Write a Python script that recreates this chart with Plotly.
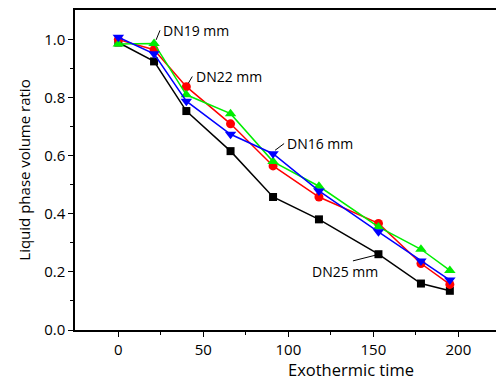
import plotly.graph_objects as go

time = [0, 21, 40, 66, 91, 118, 153, 178, 195]
dn25 = [0.99, 0.925, 0.754, 0.616, 0.458, 0.381, 0.261, 0.160, 0.135]
dn22 = [1.0, 0.965, 0.838, 0.71, 0.565, 0.458, 0.367, 0.229, 0.157]
dn19 = [0.985, 0.987, 0.81, 0.745, 0.58, 0.495, 0.355, 0.278, 0.205]
dn16 = [1.008, 0.951, 0.788, 0.674, 0.607, 0.479, 0.338, 0.238, 0.172]

series = [
    ("DN25 mm", dn25, "#000000", "square", 8),
    ("DN22 mm", dn22, "#ff0000", "circle", 9),
    ("DN19 mm", dn19, "#00ee00", "triangle-up", 10),
    ("DN16 mm", dn16, "#0000ff", "triangle-down", 10),
]

FONT = "Open Sans"
fig = go.Figure()
for name, ys, col, sym, sz in series:
    fig.add_trace(go.Scatter(x=time, y=ys, name=name, mode="lines+markers",
                             line=dict(color=col, width=1.5),
                             marker=dict(symbol=sym, size=sz, color=col),
                             cliponaxis=False))

labels = [
    ("DN19 mm", dn19, 1, (3.5, 0.045), None),
    ("DN22 mm", dn22, 2, (3.5, 0.035), None),
    ("DN16 mm", dn16, 4, (6.5, 0.035), None),
    ("DN25 mm", dn25, 6, (-15, 0.023), (-40, -0.06)),
]
for txt, ys, i, (dx, dy), toff in labels:
    x0, y0 = time[i], ys[i]
    if toff is None:
        fig.add_shape(type="line", x0=x0 + 1.2, y0=y0 + 0.012, x1=x0 + dx, y1=y0 + dy,
                      line=dict(color="black", width=1))
        fig.add_annotation(x=x0 + dx + 0.8, y=y0 + dy, text=txt, showarrow=False,
                           xanchor="left", yanchor="middle",
                           font=dict(family=FONT, size=14, color="black"))
    else:
        fig.add_shape(type="line", x0=x0 - 1.5, y0=y0 - 0.003, x1=x0 + dx, y1=y0 - dy,
                      line=dict(color="black", width=1))
        fig.add_annotation(x=x0 + toff[0], y=y0 + toff[1], text=txt, showarrow=False,
                           xanchor="left", yanchor="middle",
                           font=dict(family=FONT, size=14, color="black"))

# figure is slightly wider than the window; the plot continues past the right edge
W = 512
PLOT_W = W - 75
fig.add_annotation(xref="paper", yref="paper", x=(351 - 75) / PLOT_W, y=-40 / 320.5,
                   text="Exothermic time", showarrow=False, xanchor="center", yanchor="middle",
                   font=dict(family=FONT, size=16.5, color="black"))

fig.update_layout(
    width=W, height=383,
    margin=dict(l=75, r=0, t=9.5, b=53),
    paper_bgcolor="white", plot_bgcolor="white",
    showlegend=False,
    font=dict(family=FONT, size=13, color="black"),
    xaxis=dict(range=[-25.5, -25.5 + PLOT_W / 1.7], tickvals=[0, 50, 100, 150, 200],
               showline=True, mirror=True, linecolor="black", linewidth=1.5,
               ticks="outside", ticklen=5, tickwidth=1, tickcolor="black",
               minor=dict(tickvals=[25, 75, 125, 175], ticks="outside", ticklen=3, tickcolor="black"),
               showgrid=False, zeroline=False,
               tickfont=dict(family=FONT, size=15)),
    yaxis=dict(range=[0, 1.102], tickvals=[0, 0.2, 0.4, 0.6, 0.8, 1.0],
               ticktext=["0.0", "0.2", "0.4", "0.6", "0.8", "1.0"],
               showline=True, linecolor="black", linewidth=1.5,
               ticks="outside", ticklen=5, tickwidth=1, tickcolor="black",
               minor=dict(tickvals=[0.1, 0.3, 0.5, 0.7, 0.9], ticks="outside", ticklen=3, tickcolor="black"),
               showgrid=False, zeroline=False,
               tickfont=dict(family=FONT, size=15),
               title=dict(text="Liquid phase volume ratio", font=dict(family=FONT, size=15), standoff=10)),
)

fig.write_html("out.html", config={"displayModeBar": False},
               post_script="document.body.style.margin='0';document.body.style.overflow='hidden';"
                           "document.documentElement.style.overflow='hidden';")
